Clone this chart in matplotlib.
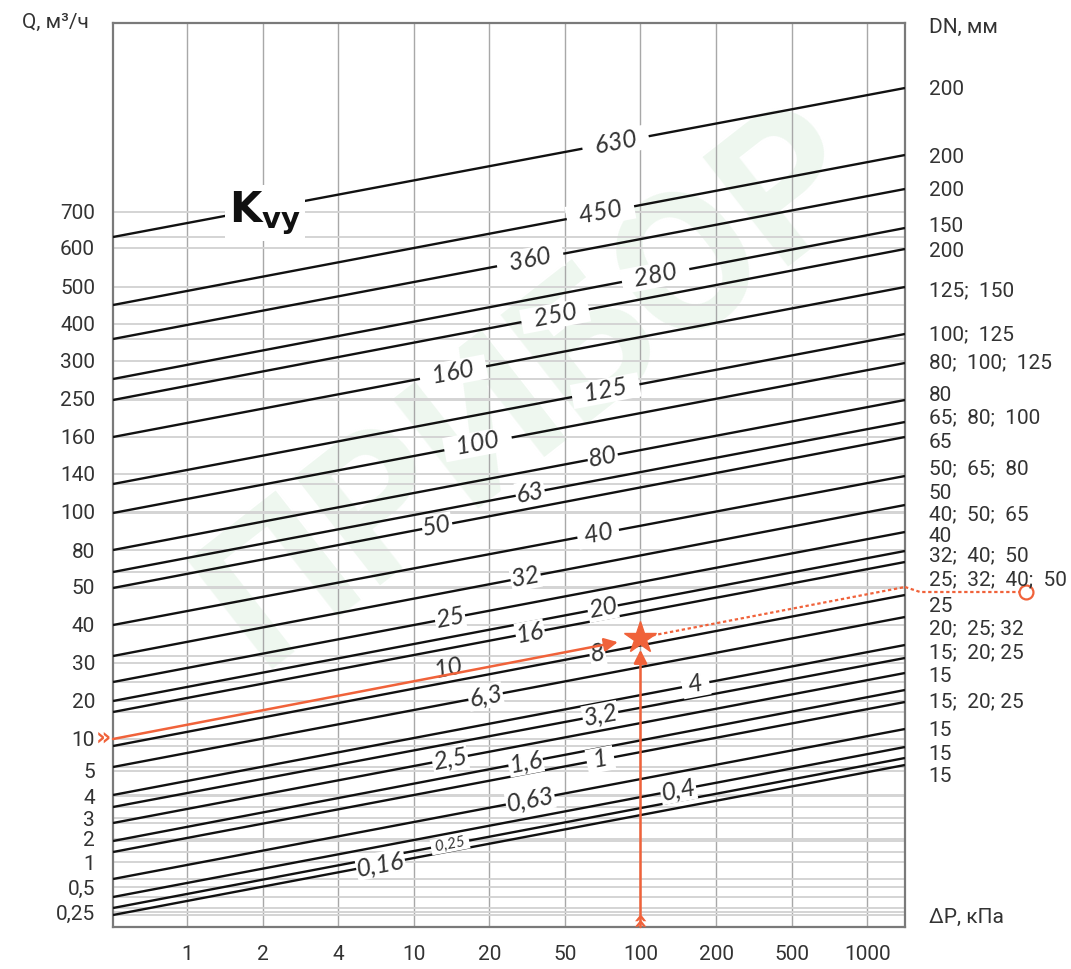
import numpy as np
import matplotlib
matplotlib.use("Agg")
import matplotlib.pyplot as plt

# ---------------- data ----------------
dp_labels = ['1', '2', '4', '10', '20', '50', '100', '200', '500', '1000']

q_labels = ['700', '600', '500', '400', '300', '250', '160', '140', '100', '80',
            '50', '40', '30', '20', '10', '5', '4', '3', '2', '1', '0,5', '0,25']
q_levels = [715, 679, 640, 603, 566, 528, 490, 453, 415, 377,
            340, 302, 264, 226, 188, 156, 131, 109, 88, 65, 40, 15]

kvy_labels = ['630', '450', '360', '280', '250', '160', '125', '100', '80', '63',
              '50', '40', '32', '25', '20', '16', '10', '8', '6,3', '4',
              '3,2', '2,5', '1,6', '1', '0,63', '0,4', '0,25', '0,16']
kvy_left = [690, 622, 588, 548, 527, 490, 443, 414, 377, 355,
            339, 302, 271, 245, 226, 215, 188, 181, 160, 132,
            120, 104, 86, 75, 48, 30, 19, 12]
kvy_right = [839, 772, 738, 699, 678, 640, 593, 564, 527, 505,
             490, 451, 422, 395, 376, 365, 340, 332, 310, 282,
             269, 254, 237, 225, 198, 180, 169, 162]

dn_labels = ['200', '200', '200', '150', '200', '125;  150', '100;  125',
             '80;  100;  125', '80', '65;  80;  100', '65', '50;  65;  80', '50',
             '40;  50;  65', '40', '32;  40;  50', '25;  32;  40;  50', '25',
             '20;  25; 32', '15;  20; 25', '15', '15;  20; 25', '15', '15', '15']
dn_levels = [840, 772, 739, 703, 678, 638, 594, 566, 534, 511, 487, 460, 436,
             414, 392, 373, 349, 323, 300, 276, 252, 227, 199, 175, 153]

example_kvy = '10'
example_dp = '100'
example_dn_level = 335

# ---------------- layout / style ----------------
W, H = 1071, 969
FONT = 'Roboto'
IFONT = 'Lato'
TXT = '#333333'
ORANGE = '#f0623a'
x0, x1 = -0.98, 9.5
y0, y1 = 0, 904

label_x = [5.67, 5.47, 4.54, 6.2, 4.87, 3.52, 5.54, 3.85, 5.5, 4.54,
           3.31, 5.44, 4.48, 3.48, 5.5, 4.54, 3.46, 5.43, 3.95, 6.73,
           5.47, 3.48, 4.48, 5.47, 4.54, 6.5, 3.48, 2.56]
label_sp = [2, 2, 2, 2, 2, 2, 2, 2, 0, 0,
            0, 1, 0, 0, 0, 0, 0, 0, 0, 1,
            0, 0, 0, 1, 0, 0, 1, 0]

fig = plt.figure(figsize=(W / 100, H / 100), dpi=100)

# faint watermark behind the chart
fig.text(0.50, 0.60, 'ПРИБОР', rotation=38, fontsize=140, color='#eef7ef',
         ha='center', va='center', family=FONT, fontweight='bold', zorder=-5)

ax = fig.add_axes([113 / W, (H - 927) / H, (905 - 113) / W, (927 - 23) / H])
ax.set_facecolor('none')
ax.set_xlim(x0, x1)
ax.set_ylim(y0, y1)

xt = np.arange(len(dp_labels))
for xv in xt:
    ax.axvline(xv, color='#a8a8a8', lw=1.0, zorder=1)
hlevels = sorted(set(q_levels) | set(kvy_left))
for yv in hlevels:
    ax.axhline(yv, color='#d4d4d4', lw=1.4, zorder=1)

for s in ax.spines.values():
    s.set_color('#7a7a7a')
    s.set_linewidth(1.6)

ax.set_xticks(xt, dp_labels)
ax.set_yticks(q_levels, q_labels)
ax.tick_params(axis='both', length=0, labelsize=15, labelcolor=TXT)
ax.tick_params(axis='x', pad=13)
ax.tick_params(axis='y', pad=13)
for lab in ax.get_xticklabels() + ax.get_yticklabels():
    lab.set_family(FONT)

ax2 = ax.twinx()
ax2.set_ylim(y0, y1)
ax2.set_yticks(dn_levels, dn_labels)
ax2.tick_params(axis='y', length=0, labelsize=15, labelcolor=TXT, pad=17)
for lab in ax2.get_yticklabels():
    lab.set_family(FONT)
    lab.set_clip_on(False)
for s in ax2.spines.values():
    s.set_visible(False)

fig.canvas.draw()
for i, lab in enumerate(kvy_labels):
    yl, yr = kvy_left[i], kvy_right[i]
    is_ex = (lab == example_kvy)
    if not is_ex:
        ax.plot([x0, x1], [yl, yr], color='#111111', lw=1.7, zorder=3,
                solid_capstyle='butt')
    p1 = ax.transData.transform((x0, yl))
    p2 = ax.transData.transform((x1, yr))
    ang = np.degrees(np.arctan2(p2[1] - p1[1], p2[0] - p1[0]))
    lx = label_x[i]
    ly = yl + (yr - yl) * (lx - x0) / (x1 - x0)
    sp = ' ' * label_sp[i]
    fs = 11 if lab == '0,25' else 18
    if is_ex:
        ax.text(lx, ly + 7, lab, rotation=ang, rotation_mode='anchor',
                ha='center', va='center', fontsize=fs, style='italic',
                family=IFONT, color=TXT, zorder=5)
    else:
        ax.text(lx, ly, sp + lab + sp, rotation=ang, rotation_mode='anchor',
                ha='center', va='center', fontsize=fs, style='italic',
                family=IFONT, color=TXT, zorder=5,
                bbox=dict(fc='white', ec='none', pad=0.6))

kx = 1.03
ky = kvy_left[0] + (kvy_right[0] - kvy_left[0]) * (kx - x0) / (x1 - x0)
ax.text(kx, ky - 5, r'$\mathbf{K}_{\mathbf{vy}}$', fontsize=30, ha='center',
        va='center', color='#111111', zorder=5,
        bbox=dict(fc='white', ec='none', pad=3))

# example (orange) path
ie = kvy_labels.index(example_kvy)
xe = dp_labels.index(example_dp)
yl, yr = kvy_left[ie], kvy_right[ie]
ye = yl + (yr - yl) * (xe - x0) / (x1 - x0)
xa = xe - 0.3
ya = yl + (yr - yl) * (xa - x0) / (x1 - x0)
ax.annotate('', xy=(xa, ya), xytext=(x0, yl),
            arrowprops=dict(arrowstyle='-|>', color=ORANGE, lw=1.8,
                            mutation_scale=20, shrinkA=0, shrinkB=0), zorder=6)
ax.annotate('', xy=(xe, ye - 12), xytext=(xe, y0),
            arrowprops=dict(arrowstyle='-|>', color=ORANGE, lw=1.8,
                            mutation_scale=20, shrinkA=0, shrinkB=0), zorder=6)
ax.plot([xe, x1], [ye, yr], color=ORANGE, lw=1.6, ls=(0, (1.5, 1.2)), zorder=6)
ax.plot([x1, x1 + 0.2, x1 + 1.6], [yr, example_dn_level, example_dn_level],
        color=ORANGE, lw=1.6, ls=(0, (1.5, 1.2)), zorder=6, clip_on=False)
ax.plot([x1 + 1.6], [example_dn_level], marker='o', ms=10, mfc='white',
        mec=ORANGE, mew=1.6, clip_on=False, zorder=7)
ax.plot([xe], [ye], marker='*', ms=24, color=ORANGE, mec=ORANGE, zorder=8)
ax.text(x0 - 0.02, yl, '»', color=ORANGE, fontsize=17, ha='right',
        va='center', fontweight='bold', clip_on=False, zorder=7)
ax.text(xe, y0 + 1, '»', color=ORANGE, fontsize=17, ha='center',
        va='bottom', rotation=90, fontweight='bold', zorder=7)

fig.text(55 / W, 1 - 22 / H, 'Q, м³/ч', fontsize=15, ha='center',
         va='center', color=TXT, family=FONT)
fig.text(929 / W, 1 - 27 / H, 'DN, мм', fontsize=15, ha='left',
         va='center', color=TXT, family=FONT)
fig.text(929 / W, 1 - 917 / H, 'ΔP, кПа', fontsize=15, ha='left',
         va='center', color=TXT, family=FONT)

fig.savefig('out.png', dpi=100, facecolor='white')
